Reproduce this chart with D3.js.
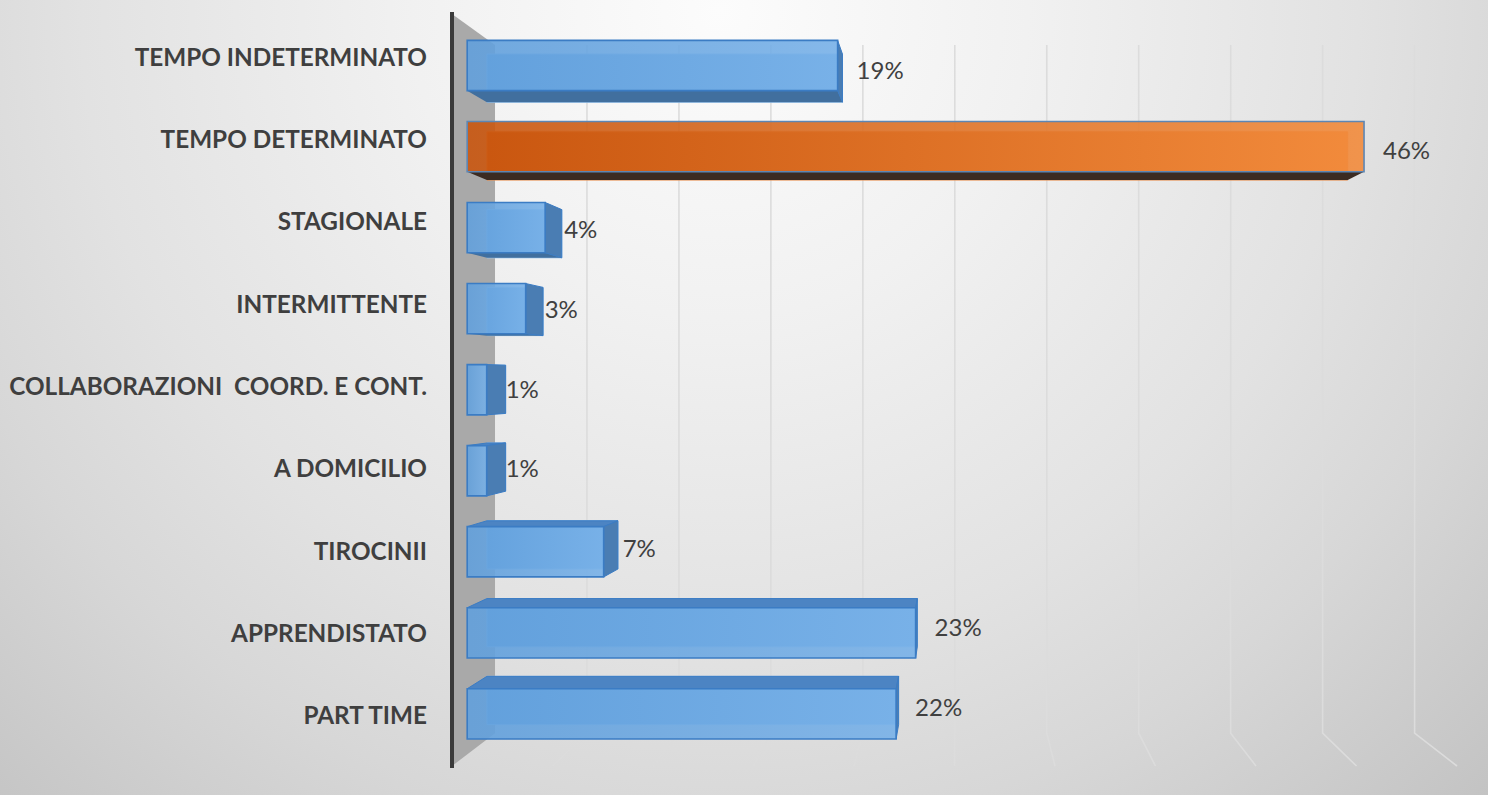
<!DOCTYPE html>
<html>
<head>
<meta charset="utf-8">
<script src="https://cdn.jsdelivr.net/npm/d3@7"></script>
<style>
  html, body { margin: 0; padding: 0; overflow: hidden; }
  svg { display: block; }
</style>
</head>
<body>
<svg id="chart" width="1488" height="795"></svg>
<script>
// Contract types and their share of the total (%)
const categories = [
  "TEMPO INDETERMINATO",
  "TEMPO DETERMINATO",
  "STAGIONALE",
  "INTERMITTENTE",
  "COLLABORAZIONI  COORD. E CONT.",
  "A DOMICILIO",
  "TIROCINII",
  "APPRENDISTATO",
  "PART TIME"
];
const values = [19, 46, 4, 3, 1, 1, 7, 23, 22];
const highlighted = ["TEMPO DETERMINATO"];
const gridTicks = [5, 10, 15, 20, 25, 30, 35, 40, 45, 50];

const W = 1488, H = 795;
const svg = d3.select("#chart");

// ---- simple one-point perspective: front plane -> back wall ----
const VP = { x: 958, y: 380 };      // vanishing point
const DEPTH_WALL = 0.085;           // back wall depth factor
const BAR_FRONT = 0.03, BAR_BACK = 0.069;
const LABEL_DEPTH = 0.015, VALUE_DEPTH = 0.047;

function proj(x, y, s) {
  return [x + (VP.x - x) * s, y + (VP.y - y) * s];
}

const x = d3.scaleLinear().domain([0, 50]).range([452, 1457]);
const y = d3.scaleBand().domain(categories).range([14, 766])
  .paddingInner(0.38).paddingOuter(0.19);

// ---- background ----
const defs = svg.append("defs");
const bg = defs.append("radialGradient").attr("id", "bg")
  .attr("gradientUnits", "userSpaceOnUse")
  .attr("cx", 720).attr("cy", 10).attr("r", 1100);
[[0, "#fcfcfc"], [0.28, "#f1f1f1"], [0.58, "#e2e2e2"], [0.75, "#d7d7d7"], [1, "#c3c3c3"]]
  .forEach(([o, c]) => bg.append("stop").attr("offset", o).attr("stop-color", c));
svg.append("rect").attr("width", W).attr("height", H).attr("fill", "url(#bg)");

const blueGrad = defs.append("linearGradient").attr("id", "blueFront")
  .attr("x1", 0).attr("x2", 1).attr("y1", 0).attr("y2", 0);
blueGrad.append("stop").attr("offset", 0).attr("stop-color", "#62a0dc");
blueGrad.append("stop").attr("offset", 1).attr("stop-color", "#78b1e8");

const orangeGrad = defs.append("linearGradient").attr("id", "orangeFront")
  .attr("x1", 0).attr("x2", 1).attr("y1", 0).attr("y2", 0);
orangeGrad.append("stop").attr("offset", 0).attr("stop-color", "#c9560f");
orangeGrad.append("stop").attr("offset", 1).attr("stop-color", "#f28b3c");

const [y0, y1] = y.range();
const line = d3.line();

// ---- gridlines on back wall and floor ----
const grid = svg.append("g");
gridTicks.forEach(t => {
  const top = proj(x(t), y0, DEPTH_WALL);
  const bot = proj(x(t), y1, DEPTH_WALL);
  const front = [x(t), y1];
  grid.append("path")
    .attr("d", line([top, bot, front]))
    .attr("fill", "none")
    .attr("stroke", "#dcdcdc")
    .attr("stroke-width", 1.6);
});

// ---- left side wall ----
const wallPts = [
  [x(0), y0], proj(x(0), y0, DEPTH_WALL),
  proj(x(0), y1, DEPTH_WALL), [x(0), y1]
];
svg.append("path").attr("d", line(wallPts) + "Z").attr("fill", "#a9a9a9");
svg.append("line")
  .attr("x1", x(0)).attr("x2", x(0)).attr("y1", y0 - 2).attr("y2", y1 + 2)
  .attr("stroke", "#3b3b3b").attr("stroke-width", 4);

// ---- bars ----
const data = categories.map((c, i) => ({ cat: c, value: values[i], hot: highlighted.includes(c) }));
const bars = svg.append("g");

data.forEach(d => {
  const xa = x(0), xb = x(d.value);
  const ya = y(d.cat), yb = y(d.cat) + y.bandwidth();
  const F = (px, py) => proj(px, py, BAR_FRONT);
  const B = (px, py) => proj(px, py, BAR_BACK);
  const pal = d.hot
    ? { front: "url(#orangeFront)", under: "#3b2b22", top: "#b4531a", side: "#a84d14", stroke: "#5d86b4", back: "#e58a4a" }
    : { front: "url(#blueFront)", under: "#416f9e", top: "#4c84c3", side: "#4a7db3", stroke: "#3b7cc4", back: "#9cc6ee" };
  const g = bars.append("g");

  // far face (seen through the translucent front)
  const bf = [B(xa, ya), B(xb, ya), B(xb, yb), B(xa, yb)];
  g.append("path").attr("d", line(bf) + "Z")
    .attr("fill", pal.front).attr("stroke", pal.back).attr("stroke-width", 1);

  // underside or top face
  const fa = F(xa, ya), fb = F(xb, yb);
  if (fb[1] < VP.y - 5) {
    g.append("path").attr("d", line([F(xa, yb), F(xb, yb), B(xb, yb), B(xa, yb)]) + "Z")
      .attr("fill", pal.under);
  }
  if (fa[1] > VP.y + 5) {
    g.append("path").attr("d", line([F(xa, ya), F(xb, ya), B(xb, ya), B(xa, ya)]) + "Z")
      .attr("fill", pal.top).attr("stroke", pal.stroke).attr("stroke-width", 1);
  }
  // right end face
  if (xb < VP.x) {
    g.append("path").attr("d", line([F(xb, ya), B(xb, ya), B(xb, yb), F(xb, yb)]) + "Z")
      .attr("fill", pal.side).attr("stroke", pal.stroke).attr("stroke-width", 1);
  }
  // front face
  const ff = [F(xa, ya), F(xb, ya), F(xb, yb), F(xa, yb)];
  g.append("path").attr("d", line(ff) + "Z")
    .attr("fill", pal.front).attr("fill-opacity", 0.9)
    .attr("stroke", pal.stroke).attr("stroke-width", 1.6);

  // value label
  const lx = F(xb, 0)[0];
  const ly = proj(xb, (ya + yb) / 2, VALUE_DEPTH)[1];
  svg.append("text")
    .attr("x", lx + 19).attr("y", ly + 2)
    .attr("dominant-baseline", "middle")
    .attr("font-family", "Lato, 'Open Sans', sans-serif")
    .attr("font-size", 24)
    .attr("fill", "#404040")
    .text(d.value + "%");
});

// ---- category labels ----
svg.append("g").selectAll("text").data(data).join("text")
  .attr("x", 427)
  .attr("y", d => proj(x(0), y(d.cat) + y.bandwidth() / 2, LABEL_DEPTH)[1] - 1)
  .attr("text-anchor", "end")
  .attr("dominant-baseline", "middle")
  .attr("font-family", "Lato, 'Open Sans', sans-serif")
  .attr("font-weight", "bold")
  .attr("font-size", 24.3)
  .attr("fill", "#3f3f3f")
  .style("white-space", "pre")
  .text(d => d.cat);
</script>
</body>
</html>
